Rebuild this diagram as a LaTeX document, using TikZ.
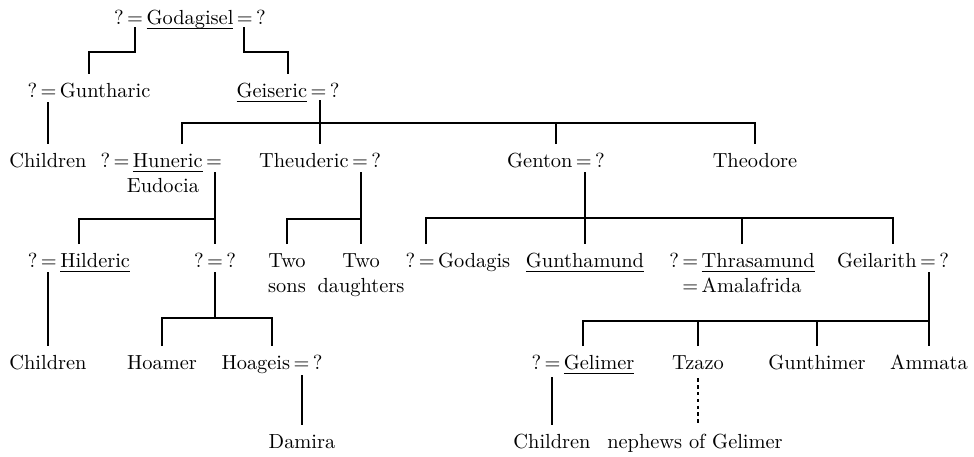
\documentclass[tikz,border=0pt]{standalone}
\usepackage{tikz}

\newcommand{\undl}[1]{\setbox0=\hbox{#1}\rlap{\rule[-2.3pt]{\wd0}{.7pt}}\box0}
\newcommand{\wed}{\,=\,}

\begin{document}
\begin{tikzpicture}[
    x=0.5pt,y=-0.5pt,
    link/.style={line width=1.1pt},
    dots/.style={line width=1.1pt, dash pattern=on 1.7pt off 1.7pt},
    who/.style={anchor=north, inner xsep=0pt, inner ysep=4.4pt, align=center,
      font=\fontsize{10.2pt}{12.5pt}\selectfont}
    ]
    \useasboundingbox (0, 0) rectangle (974, 456);

    \node[who] (godagisel) at (190, 1) {?\wed\undl{Godagisel}\wed?};
    \node[who] (guntharic) at (89, 74) {?\wed Guntharic};
    \node[who] (geiseric) at (288, 74) {\undl{Geiseric}\wed?};
    \node[who] (kidsA) at (48, 144) {Children};
    \node[who] (huneric) at (163, 144) {?\wed\undl{Huneric}\wed\\Eudocia};
    \node[who] (theuderic) at (320, 144) {Theuderic\wed?};
    \node[who] (genton) at (556, 144) {Genton\wed?};
    \node[who] (theodore) at (755, 144) {Theodore};
    \node[who] (hilderic) at (79, 244) {?\wed\undl{Hilderic}};
    \node[who] (anon) at (215, 244) {?\wed?};
    \node[who] (sons) at (287, 244) {Two\\sons};
    \node[who] (daughters) at (361, 244) {Two\\daughters};
    \node[who] (godagis) at (458, 244) {?\wed Godagis};
    \node[who] (gunthamund) at (585, 244) {\undl{Gunthamund}};
    \node[who] (thrasamund) at (742, 244) {?\wed\undl{Thrasamund}\\=\,Amalafrida};
    \node[who] (geilarith) at (893, 244) {Geilarith\wed?};
    \node[who] (kidsB) at (48, 346) {Children};
    \node[who] (hoamer) at (162, 346) {Hoamer};
    \node[who] (hoageis) at (272, 346) {Hoageis\wed?};
    \node[who] (gelimer) at (583, 346) {?\wed\undl{Gelimer}};
    \node[who] (tzazo) at (698, 346) {Tzazo};
    \node[who] (gunthimer) at (817, 346) {Gunthimer};
    \node[who] (ammata) at (929, 346) {Ammata};
    \node[who] (damira) at (302, 425) {Damira};
    \node[who] (kidsC) at (552, 425) {Children};
    \node[who] (nephews) at (695, 425) {nephews of Gelimer};

    \coordinate (mGdgL) at (135, 27);
    \coordinate (mGdgR) at (244, 27);
    \coordinate (mGun) at (48, 102);
    \coordinate (mGei) at (320, 100);
    \coordinate (mHun) at (215, 172);
    \coordinate (mThd) at (361, 172);
    \coordinate (mGen) at (585, 172);
    \coordinate (mHil) at (48, 272);
    \coordinate (mAnon) at (215, 272);
    \coordinate (mGil) at (929, 272);
    \coordinate (mHoa) at (302, 375);
    \coordinate (mGel) at (552, 377);
    \coordinate (barGei) at (320, 123);
    \coordinate (barHun) at (215, 219);
    \coordinate (barThd) at (361, 219);
    \coordinate (barGen) at (585, 218);
    \coordinate (barAnon) at (215, 318);
    \coordinate (barGil) at (929, 321);

    \draw[link] (mGdgL) -- ++(0, 25) -| (guntharic.north);
    \draw[link] (mGdgR) -- ++(0, 25) -| (geiseric.north);
    \draw[link] (mGun) -- (kidsA.north);
    \draw[link] (mGei) -- (theuderic.north);
    \draw[link] ([xshift=9.5pt]huneric.north) |- (barGei) -| (theodore.north);
    \draw[link] (genton.north) -- (genton.north |- barGei);
    \draw[link] (mHun) -- (anon.north);
    \draw[link] (hilderic.north) |- (barHun);
    \draw[link] (mThd) -- (daughters.north);
    \draw[link] (sons.north) |- (barThd);
    \draw[link] (mGen) -- (gunthamund.north);
    \draw[link] ([xshift=-16pt]godagis.north) |- (barGen) -| (geilarith.north);
    \draw[link] (thrasamund.north) -- (thrasamund.north |- barGen);
    \draw[link] (mHil) -- (kidsB.north);
    \draw[link] (mAnon) -- (barAnon);
    \draw[link] (hoamer.north) |- (barAnon) -| (hoageis.north);
    \draw[link] (mHoa) -- (damira.north);
    \draw[link] (mGil) -- (ammata.north);
    \draw[link] (gelimer.north) |- (barGil);
    \draw[link] (tzazo.north) -- (tzazo.north |- barGil);
    \draw[link] (gunthimer.north) -- (gunthimer.north |- barGil);
    \draw[link] (mGel) -- (kidsC.north);
    \draw[dots] (tzazo.south) -- (tzazo.south |- nephews.north);
  \end{tikzpicture}
\end{document}
